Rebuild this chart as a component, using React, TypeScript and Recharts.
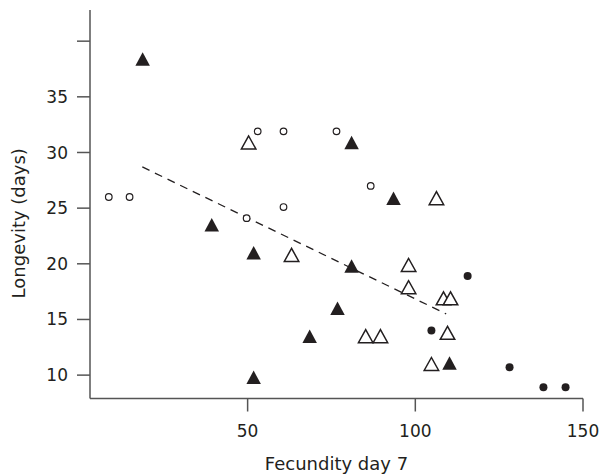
import React from 'react';
import { ScatterChart, Scatter, XAxis, YAxis } from 'recharts';

// Open circles
const openCircleX = [8.6, 14.8, 53.0, 60.7, 76.5, 86.7, 49.7, 60.7];
const openCircleY = [26.0, 26.0, 31.9, 31.9, 31.9, 27.0, 24.1, 25.1];
// Filled circles
const filledCircleX = [115.6, 104.8, 128.1, 138.2, 144.8];
const filledCircleY = [18.9, 14.0, 10.7, 8.9, 8.9];
// Filled triangles
const filledTriX = [18.7, 39.3, 51.8, 51.8, 81.0, 81.0, 76.8, 68.5, 93.5, 110.2];
const filledTriY = [38.4, 23.5, 21.0, 9.8, 30.9, 19.8, 16.0, 13.5, 25.9, 11.1];
// Open triangles
const openTriX = [50.3, 63.1, 106.3, 98.0, 98.0, 108.4, 110.5, 85.2, 89.6, 109.6, 104.8];
const openTriY = [30.9, 20.8, 25.9, 19.9, 17.9, 16.9, 16.9, 13.5, 13.5, 13.8, 11.0];
// Regression line end points
const fitX = [18.6, 109.2];
const fitY = [28.7, 15.5];

const xTicks = [50, 100, 150];
const yTicks = [10, 15, 20, 25, 30, 35, 40];
const yTickLabels: Record<number, string> = { 10: '10', 15: '15', 20: '20', 25: '25', 30: '30', 35: '35', 40: '' };

const zip = (xs: number[], ys: number[]) => xs.map((x, i) => ({ x, y: ys[i] }));

const INK = '#231f20';
const AXIS = '#555555';
const FONT = '"DejaVu Sans", sans-serif';

const OpenCircle = (p: any) => (
  <circle cx={p.cx} cy={p.cy} r={3.3} fill="#fff" stroke={INK} strokeWidth={1.2} />
);
const FilledCircle = (p: any) => <circle cx={p.cx} cy={p.cy} r={4} fill={INK} />;
const FilledTri = (p: any) => {
  const w = 14.5, h = 13.5;
  return (
    <polygon
      points={`${p.cx},${p.cy - h / 2} ${p.cx - w / 2},${p.cy + h / 2} ${p.cx + w / 2},${p.cy + h / 2}`}
      fill={INK}
    />
  );
};
const OpenTri = (p: any) => {
  const w = 14.5, h = 13;
  return (
    <polygon
      points={`${p.cx},${p.cy - h / 2} ${p.cx - w / 2},${p.cy + h / 2} ${p.cx + w / 2},${p.cy + h / 2}`}
      fill="#fff"
      stroke={INK}
      strokeWidth={1.5}
      strokeLinejoin="miter"
    />
  );
};
const NoShape = () => <g />;

export default function App() {
  return (
    <div style={{ position: 'absolute', left: 0, top: 0, background: '#fff' }}>
      <ScatterChart width={602} height={475} margin={{ top: 10, right: 19, bottom: 16.5, left: 0 }}>
        <XAxis
          type="number"
          dataKey="x"
          domain={[3, 150]}
          allowDataOverflow
          ticks={xTicks}
          tickSize={13}
          tickMargin={13}
          height={60}
          stroke={AXIS}
          strokeWidth={1.5}
          tick={{ fill: INK, fontSize: 17, fontFamily: FONT }}
          label={{
            content: (props: any) => {
              const vb = props.viewBox;
              return (
                <text x={vb.x + vb.width / 2} y={vb.y + 71} textAnchor="middle" fill={INK} fontSize={18} fontFamily={FONT}>
                  Fecundity day 7
                </text>
              );
            },
          }}
        />
        <YAxis
          type="number"
          dataKey="y"
          domain={[7.9, 42.8]}
          allowDataOverflow
          ticks={yTicks}
          tickFormatter={(v: number) => yTickLabels[v] ?? String(v)}
          tickSize={13}
          tickMargin={9}
          width={90}
          stroke={AXIS}
          strokeWidth={1.5}
          tick={{ fill: INK, fontSize: 17, fontFamily: FONT }}
          label={{
            content: (props: any) => {
              const vb = props.viewBox;
              const cx = 25;
              const cy = vb.y + vb.height / 2 + 19;
              return (
                <text x={cx} y={cy} transform={`rotate(-90 ${cx} ${cy})`} textAnchor="middle" fill={INK} fontSize={18} fontFamily={FONT}>
                  Longevity (days)
                </text>
              );
            },
          }}
        />
        <Scatter
          data={zip(fitX, fitY)}
          line={{ stroke: INK, strokeWidth: 1.3, strokeDasharray: '8 6' }}
          shape={NoShape}
          isAnimationActive={false}
        />
        <Scatter data={zip(openCircleX, openCircleY)} shape={OpenCircle} isAnimationActive={false} />
        <Scatter data={zip(filledCircleX, filledCircleY)} shape={FilledCircle} isAnimationActive={false} />
        <Scatter data={zip(openTriX, openTriY)} shape={OpenTri} isAnimationActive={false} />
        <Scatter data={zip(filledTriX, filledTriY)} shape={FilledTri} isAnimationActive={false} />
      </ScatterChart>
    </div>
  );
}
